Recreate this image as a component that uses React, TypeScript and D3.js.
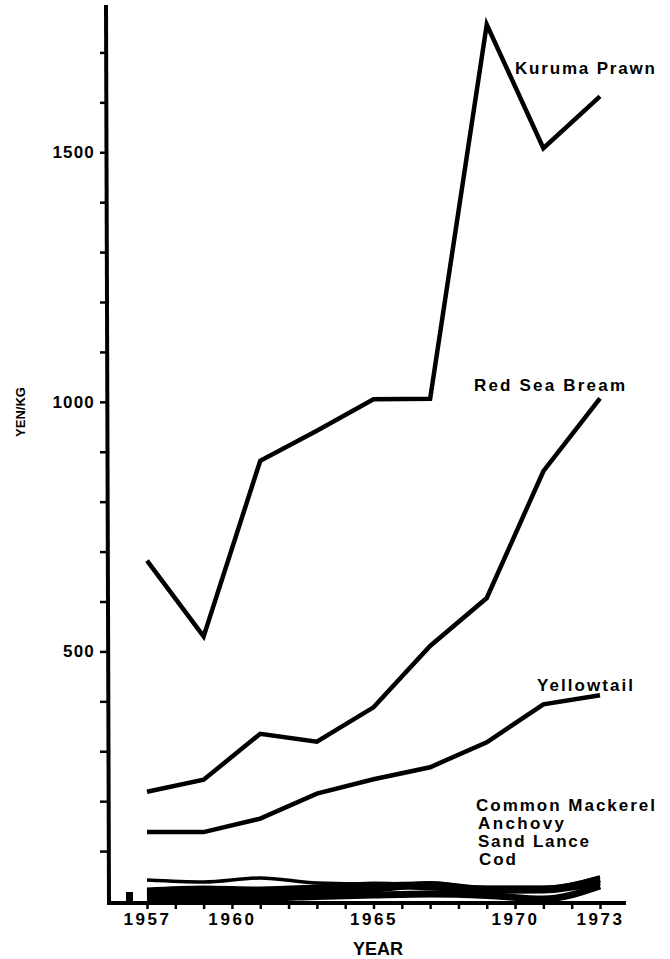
import { useRef, useEffect } from "react";
import * as d3 from "d3";

// prices in yen per kg (every second year)
const years = [1957, 1959, 1961, 1963, 1965, 1967, 1969, 1971, 1973];
const kurumaPrawn = [682, 530, 882, 942, 1005, 1006, 1756, 1508, 1612];
const redSeaBream = [219, 243, 335, 319, 388, 511, 607, 861, 1007];
const yellowtail = [138, 138, 165, 215, 244, 268, 318, 394, 412];
const commonMackerel = [42, 38, 46, 36, 34, 36, 27, 27, 48];
const anchovy = [20, 24, 22, 26, 32, 28, 24, 24, 44];
const sandLance = [12, 16, 14, 18, 24, 33, 21, 22, 38];
const cod = [5, 7, 6, 9, 12, 14, 11, 4, 30];

const yearTicks = d3.range(1957, 1974);
const yearLabels = [1957, 1960, 1965, 1970, 1973];
const yenTicks = d3.range(100, 1800, 100);
const yenLabels = [500, 1000, 1500];

const seriesLabels = [
  { text: "Kuruma Prawn", x: 515, y: 74, len: 140 },
  { text: "Red Sea Bream", x: 474, y: 391, len: 151 },
  { text: "Yellowtail", x: 537, y: 691, len: 96 },
  { text: "Common Mackerel", x: 476, y: 811, len: 179 },
  { text: "Anchovy", x: 478, y: 829, len: 86 },
  { text: "Sand Lance", x: 478, y: 847, len: 111 },
  { text: "Cod", x: 479, y: 865, len: 37 },
];

const FONT = "'Liberation Sans', Arial, sans-serif";

function PriceChart() {
  const svgRef = useRef<SVGSVGElement>(null);

  useEffect(() => {
    const svg = d3.select(svgRef.current);
    svg.selectAll("*").remove();

    const x = d3.scaleLinear().domain([1957, 1973]).range([147, 600]);
    const y = d3.scaleLinear().domain([0, 1795]).range([901, 5]);

    const line = d3
      .line<number>()
      .x((d, i) => x(years[i]))
      .y((d) => y(d));
    const smooth = d3
      .line<number>()
      .x((d, i) => x(years[i]))
      .y((d) => y(d))
      .curve(d3.curveMonotoneX);

    // axis lines
    svg.append("line")
      .attr("x1", 106).attr("y1", 5)
      .attr("x2", 109).attr("y2", 904)
      .attr("stroke", "#000").attr("stroke-width", 4);
    svg.append("line")
      .attr("x1", 107).attr("y1", 903)
      .attr("x2", 626).attr("y2", 903)
      .attr("stroke", "#000").attr("stroke-width", 4);

    // axis break mark
    svg.append("rect")
      .attr("x", 126).attr("y", 892)
      .attr("width", 7).attr("height", 13)
      .attr("fill", "#000");

    const yAxis = d3.axisLeft(y)
      .tickValues(yenTicks)
      .tickSize(7)
      .tickPadding(5)
      .tickFormat((d) => (yenLabels.includes(+d) ? String(d) : ""));
    const gy = svg.append("g").attr("transform", "translate(107,0)").call(yAxis);
    gy.select(".domain").remove();
    gy.selectAll("line").attr("stroke", "#000").attr("stroke-width", 2.5);
    gy.selectAll("text")
      .attr("font-family", FONT)
      .attr("font-weight", "bold")
      .attr("font-size", 17)
      .attr("letter-spacing", 1.2)
      .attr("fill", "#000");

    const xAxis = d3.axisBottom(x)
      .tickValues(yearTicks)
      .tickSize(6)
      .tickPadding(4)
      .tickFormat((d) => (yearLabels.includes(+d) ? String(d) : ""));
    const gx = svg.append("g").attr("transform", "translate(0,903)").call(xAxis);
    gx.select(".domain").remove();
    gx.selectAll("line").attr("stroke", "#000").attr("stroke-width", 2.5);
    gx.selectAll("text")
      .attr("font-family", FONT)
      .attr("font-weight", "bold")
      .attr("font-size", 17)
      .attr("letter-spacing", 2.6)
      .attr("fill", "#000");

    // axis titles
    svg.append("text")
      .attr("x", 378).attr("y", 955)
      .attr("text-anchor", "middle")
      .attr("font-family", FONT)
      .attr("font-weight", "bold")
      .attr("font-size", 18)
      .text("YEAR");
    svg.append("text")
      .attr("transform", "translate(25,412) rotate(-90)")
      .attr("text-anchor", "middle")
      .attr("textLength", 50)
      .attr("lengthAdjust", "spacingAndGlyphs")
      .attr("font-family", "'Liberation Sans Narrow', 'Liberation Sans', Arial, sans-serif")
      .attr("font-weight", "bold")
      .attr("font-size", 13)
      .text("YEN/KG");

    // low-priced fish, drawn as a heavy merged band
    [cod, sandLance, anchovy].forEach((s) => {
      svg.append("path")
        .datum(s)
        .attr("d", smooth)
        .attr("fill", "none")
        .attr("stroke", "#000")
        .attr("stroke-width", 7);
    });
    svg.append("path")
      .datum(commonMackerel)
      .attr("d", smooth)
      .attr("fill", "none")
      .attr("stroke", "#000")
      .attr("stroke-width", 3.5);

    [kurumaPrawn, redSeaBream, yellowtail].forEach((s) => {
      svg.append("path")
        .datum(s)
        .attr("d", line)
        .attr("fill", "none")
        .attr("stroke", "#000")
        .attr("stroke-width", 4.5)
        .attr("stroke-linejoin", "miter");
    });

    svg.append("g")
      .selectAll("text")
      .data(seriesLabels)
      .enter()
      .append("text")
      .attr("x", (d) => d.x)
      .attr("y", (d) => d.y)
      .attr("textLength", (d) => d.len)
      .attr("lengthAdjust", "spacing")
      .attr("font-family", FONT)
      .attr("font-weight", "bold")
      .attr("font-size", 17)
      .attr("fill", "#000")
      .text((d) => d.text);
  }, []);

  return (
    <svg
      ref={svgRef}
      width={670}
      height={959}
      style={{ position: "absolute", left: 0, top: 0, background: "#fff" }}
    />
  );
}

export default function App() {
  return <PriceChart />;
}
